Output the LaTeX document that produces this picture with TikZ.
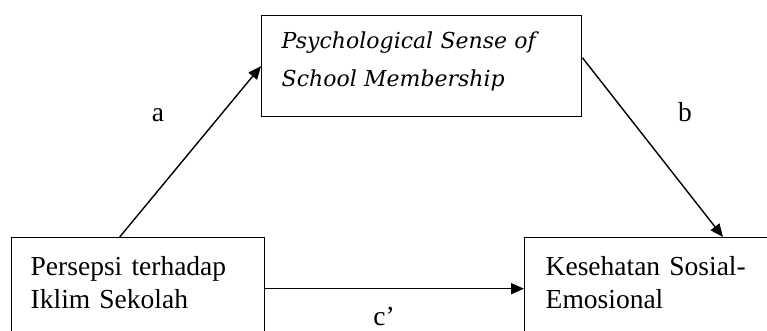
\documentclass[tikz,border=0pt]{standalone}
\usepackage{fontspec}
\setmainfont{Liberation Serif}
\newfontfamily\psmfont{DejaVu Serif}
\usetikzlibrary{%
  arrows.meta,%
  positioning,% wg. " of "
  calc%
}

\begin{document}
\begin{tikzpicture}[
  x=1pt, y=-1pt,
  font=\fontsize{27.5}{33}\selectfont,
  >={Triangle[length=13pt,width=11pt]},
  line width=1.4pt,
  box/.style={draw, anchor=north west, align=left, inner ysep=0pt},
  lbl/.style={anchor=base, inner sep=0pt},
]

\useasboundingbox (0,0) rectangle (767,331);
\clip (0,0) rectangle (767,331);

\node[box, inner xsep=20pt, text width=280pt, text height=33pt, text depth=68pt,
  font=\psmfont\itshape\fontsize{22}{38}\selectfont] (psm) at (261,15)
  {Psychological Sense of\\School Membership};
\node[box, inner xsep=19pt, text width=215pt, text height=38pt, text depth=64pt]
  (pik) at (11,237) {Persepsi terhadap\\Iklim Sekolah};
\node[box, inner xsep=21pt, text width=218pt, text height=38pt, text depth=64pt]
  (kse) at (524,237) {Kesehatan Sosial-\\Emosional};

\draw [->] ([xshift=-18.5pt]pik.north) -- (psm.west);
\draw [->] ([yshift=8.5pt]psm.east) -- ([xshift=199pt]kse.north west);
\draw [->] (pik.east) -- (kse.west);

\node[lbl] (la) at (158,122) {a};
\node[lbl] (lb) at (685,122) {b};
\node[lbl] (lc) at (384,325) {c’};

\end{tikzpicture}
\end{document}
